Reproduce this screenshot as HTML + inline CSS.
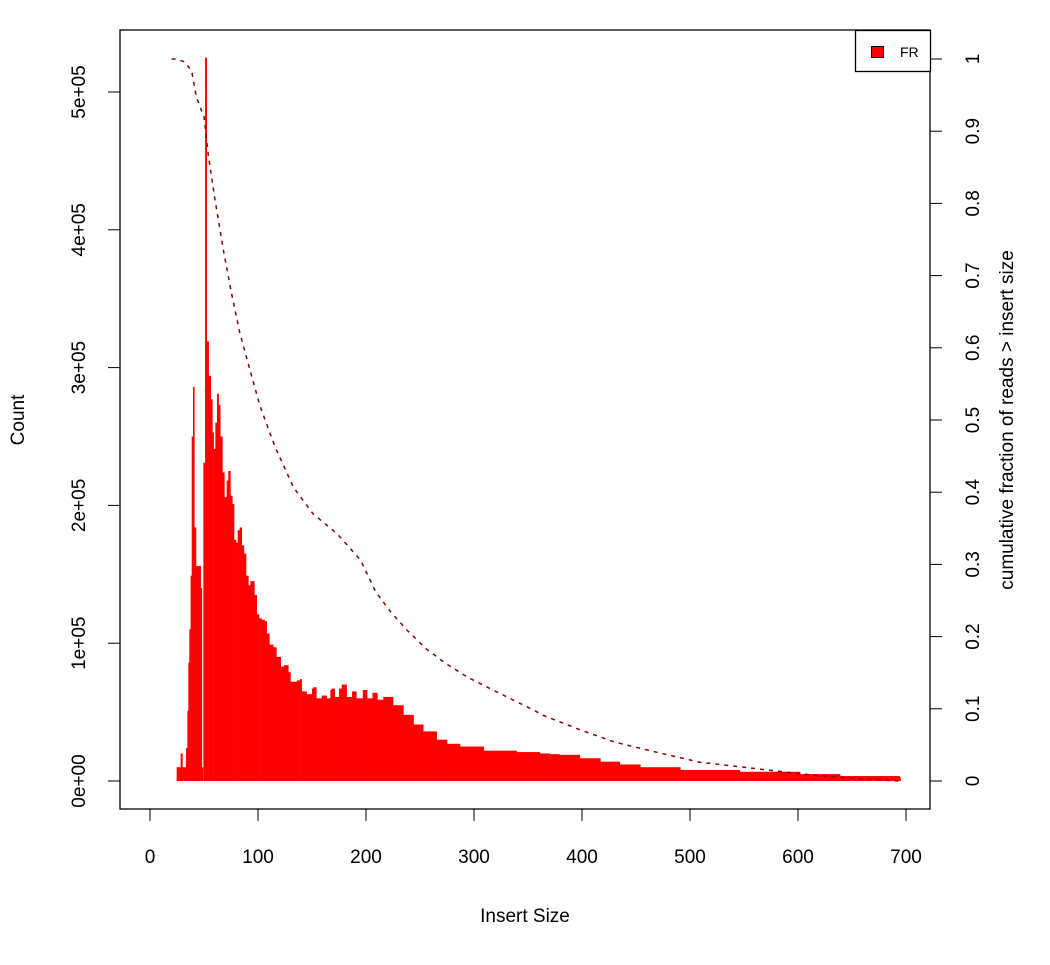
<!DOCTYPE html>
<html><head><meta charset="utf-8"><style>
body{margin:0;background:#fff}
svg text{font-family:"Liberation Sans",Arial,sans-serif;fill:#000}
</style></head><body>
<svg id="chart" width="1050" height="960" xmlns="http://www.w3.org/2000/svg">
<g id="bars"></g>
<path id="cum" fill="none" stroke="#8b0000" stroke-width="1.5" stroke-dasharray="4,5"></path>
<rect x="120" y="30" width="810" height="779" fill="none" stroke="#000" stroke-width="1.3"/>
<g id="xaxis"></g>
<g id="yaxis"></g>
<g id="y2axis"></g>
<text x="525" y="922" font-size="19" text-anchor="middle">Insert Size</text>
<text transform="translate(24,420) rotate(-90)" font-size="19" text-anchor="middle">Count</text>
<text transform="translate(1013,420) rotate(-90)" font-size="19" text-anchor="middle">cumulative fraction of reads &gt; insert size</text>
<g>
<rect x="855.5" y="30.5" width="75" height="41" fill="#fff" stroke="#000" stroke-width="1.3"/>
<rect x="871.5" y="46.5" width="12" height="11" fill="#ff0000" stroke="#000" stroke-width="1"/>
<text x="900" y="57" font-size="14">FR</text>
</g>
</svg>
<script>
const sizes=[20,24.7,27,28.4,30,31,33.3,34.6,35.5,36.4,37.6,38.6,39.8,41,42.6,45,46.9,48,49,49.4,51,52.5,54.3,56.2,57.7,58.9,60.5,62,63.5,65,67,68.8,71,72.5,74.4,76.2,77.8,79.6,81.2,83,84.9,87,88.9,91,92.9,94.8,96.6,98.8,101,103.4,106,108,110.5,114,117,121,124,128,130,132,136,139,140.4,145,150,151,154,156,159,163.6,167,168,171,175,177.5,182,187,191,197,201,206,210.5,216,225,234.6,244,253,265.4,275,287,309,339.5,361,370,379,398,417,435,454,491,546,602,639,694];
const counts=[0,10000,10000,20000,10000,10000,24000,51000,86000,110000,149000,250000,286000,184000,156000,156000,140000,10000,0,231000,525000,319000,294000,277000,253000,241000,260000,281000,273000,250000,224000,206000,218000,225000,207000,201000,175000,173000,182000,184000,171000,165000,149000,142000,145000,145000,135000,121000,118000,117000,116000,107000,99000,97000,90000,83000,84000,79000,72000,72000,73000,74000,65000,63000,67000,68000,60000,60000,62000,60000,66000,67000,61000,67000,70000,61000,65000,60000,66000,60000,64000,59000,61000,55000,48000,41000,36000,30000,27000,25000,22000,21000,20000,19500,19000,16500,14000,12000,10000,8000,6700,5000,3600,2700];
const cumSizes=[20,23,32.4,38.6,43,50,54,60,68,75.6,83,92.6,101.9,115.7,132.7,151,173,195,209,223,238,255,273.6,293.7,313.7,333.8,355.4,364,398,430,463,509,556,602,648,693];
const cumFrac=[1,1,0.996,0.983,0.947,0.92,0.867,0.807,0.735,0.675,0.622,0.569,0.519,0.463,0.407,0.37,0.343,0.306,0.262,0.234,0.209,0.184,0.163,0.144,0.129,0.114,0.098,0.091,0.071,0.054,0.042,0.026,0.018,0.010,0.004,0];
const xTicks=[0,100,200,300,400,500,600,700];
const yTicks=[0,100000,200000,300000,400000,500000];
const yTickLabels=["0e+00","1e+05","2e+05","3e+05","4e+05","5e+05"];
const y2Ticks=[0,0.1,0.2,0.3,0.4,0.5,0.6,0.7,0.8,0.9,1];
const y2TickLabels=["0","0.1","0.2","0.3","0.4","0.5","0.6","0.7","0.8","0.9","1"];

const NS="http://www.w3.org/2000/svg";
const xs=v=>150+v*1.08;
const ys=v=>781-v/100000*137.8;
const y2s=v=>781-v*722;
function mk(tag,attrs,parent){const e=document.createElementNS(NS,tag);for(const k in attrs)e.setAttribute(k,attrs[k]);parent.appendChild(e);return e;}

const bars=document.getElementById('bars');
for(let i=0;i<sizes.length;i++){
  const x0=xs(sizes[i]);
  const x1=i<sizes.length-1?xs(sizes[i+1]):x0+1;
  const y=ys(counts[i]);
  const r=mk('rect',{x:x0,y:y,width:Math.max(x1-x0,0.5)+0.3,height:781-y,fill:'#ff0000'},bars);
  
  
}
let d='';
for(let i=0;i<cumSizes.length;i++){d+=(i?'L':'M')+xs(cumSizes[i]).toFixed(1)+','+y2s(cumFrac[i]).toFixed(1);}
document.getElementById('cum').setAttribute('d',d);

const xa=document.getElementById('xaxis');
mk('line',{x1:xs(xTicks[0]),x2:xs(xTicks[xTicks.length-1]),y1:809,y2:809,stroke:'#000'},xa);
xTicks.forEach(t=>{
  const l=mk('line',{x1:xs(t),x2:xs(t),y1:809,y2:821,stroke:'#000'},xa);
  
  
  const tx=mk('text',{x:xs(t),y:863,'font-size':19,'text-anchor':'middle'},xa);
  tx.textContent=t;
  
  
});
const ya=document.getElementById('yaxis');
mk('line',{x1:120,x2:120,y1:ys(yTicks[0]),y2:ys(yTicks[yTicks.length-1]),stroke:'#000'},ya);
yTicks.forEach((t,i)=>{
  const l=mk('line',{x1:108,x2:120,y1:ys(t),y2:ys(t),stroke:'#000'},ya);
  
  
  const tx=mk('text',{transform:`translate(85,${ys(t)}) rotate(-90)`,'font-size':19,'text-anchor':'middle'},ya);
  tx.textContent=yTickLabels[i];
  
  
});
const y2a=document.getElementById('y2axis');
mk('line',{x1:930,x2:930,y1:y2s(0),y2:y2s(1),stroke:'#000'},y2a);
y2Ticks.forEach((t,i)=>{
  const l=mk('line',{x1:930,x2:942,y1:y2s(t),y2:y2s(t),stroke:'#000'},y2a);
  
  
  const tx=mk('text',{transform:`translate(979,${y2s(t)}) rotate(-90)`,'font-size':19,'text-anchor':'middle'},y2a);
  tx.textContent=y2TickLabels[i];
  
  
});
</script>
</body></html>
